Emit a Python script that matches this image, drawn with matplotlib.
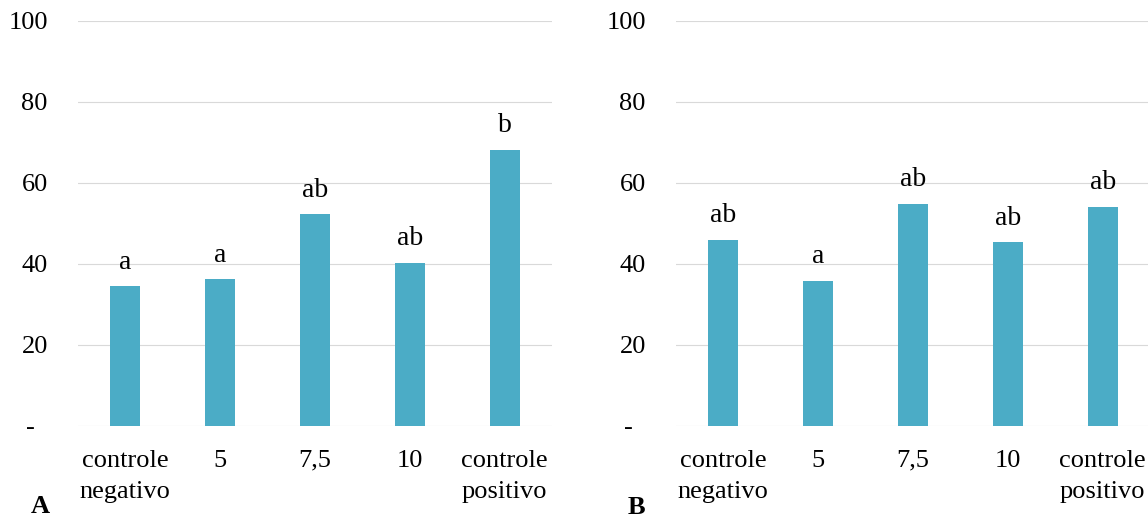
import matplotlib
matplotlib.use("Agg")
import matplotlib.pyplot as plt

plt.rcParams['font.family'] = ['Liberation Serif', 'DejaVu Serif']

categories = ["controle\nnegativo", "5", "7,5", "10", "controle\npositivo"]
values_a = [34.5, 36.2, 52.3, 40.3, 68.1]
letters_a = ["a", "a", "ab", "ab", "b"]
values_b = [45.9, 35.8, 54.8, 45.3, 54.1]
letters_b = ["ab", "a", "ab", "ab", "ab"]
yticks = [0, 20, 40, 60, 80, 100]
ytick_labels = ["-  ", "20", "40", "60", "80", "100"]

bar_color = "#4BACC6"
grid_color = "#D9D9D9"
fs = 19

fig = plt.figure(figsize=(11.48, 5.2), dpi=100)
ax_a = fig.add_axes([0.0677, 0.1808, 0.4132, 0.7794])
ax_b = fig.add_axes([0.5886, 0.1808, 0.4132, 0.7794])


def draw_panel(ax, values, letters):
    x = list(range(len(categories)))
    ax.bar(x, values, width=0.317, color=bar_color, zorder=3)
    for xi, v, lab in zip(x, values, letters):
        ax.annotate(lab, (xi, v), xytext=(0, 12.6), textcoords="offset points",
                    ha="center", va="baseline", fontsize=20)
    ax.set_xlim(-0.5, len(categories) - 0.5)
    ax.set_ylim(0, 100)
    ax.set_yticks(yticks)
    ax.set_yticklabels(ytick_labels)
    ax.set_xticks(x)
    ax.set_xticklabels(categories, linespacing=1.55)
    ax.yaxis.grid(True, color=grid_color, linewidth=0.8, zorder=0)
    ax.set_axisbelow(True)
    for s in ax.spines.values():
        s.set_visible(False)
    ax.tick_params(axis="y", length=0, pad=21.5, labelsize=fs)
    ax.tick_params(axis="x", length=0, pad=17, labelsize=fs)


draw_panel(ax_a, values_a, letters_a)
draw_panel(ax_b, values_b, letters_b)

fig.text(40 / 1148, 0.004, "A", ha="center", va="bottom", fontsize=fs, fontweight="bold")
fig.text(636 / 1148, 0.0115, "B", ha="center", va="baseline", fontsize=fs, fontweight="bold")

fig.savefig("out.png", dpi=100)
